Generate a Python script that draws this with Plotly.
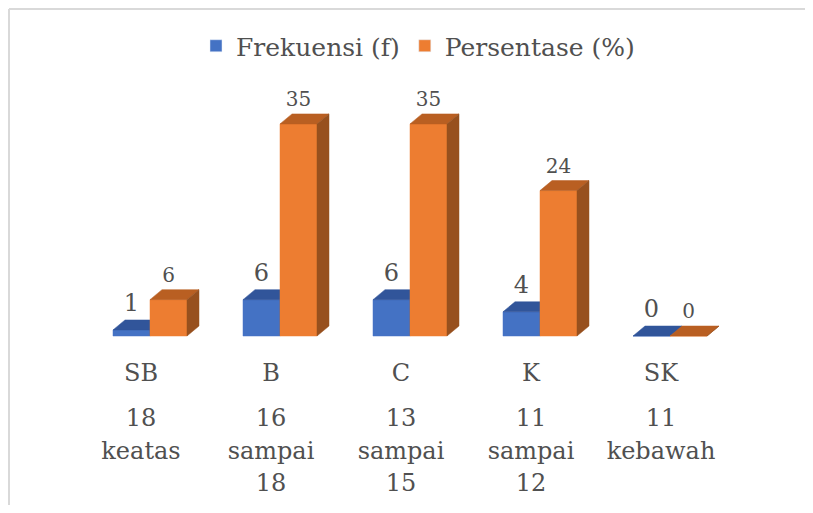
import plotly.graph_objects as go

# ---- data ----
categories = ["SB", "B", "C", "K", "SK"]
ranges = ["18\nkeatas", "16\nsampai\n18", "13\nsampai\n15", "11\nsampai\n12", "11\nkebawah"]
frekuensi = [1, 6, 6, 4, 0]
persentase = [6, 35, 35, 24, 0]
series_names = ["Frekuensi (f)", "Persentase (%)"]

# ---- styling / layout constants (page body has an 8px margin) ----
OFF = 8.0
W, H = 805, 497
C0_PX, CAT_PX = 150.0 - OFF, 130.0    # pixel of first pair centre, spacing
BASE_PX, PPU = 336.0 - OFF, 6.06      # pixel of value 0, pixels per unit
BAR_W = 37.0 / CAT_PX
DX = 12.0 / CAT_PX
DY = 10.0 / PPU
FONT = "DejaVu Serif"
TXT = "#505050"

colors = {
    0: dict(front="#4472C4", top="#31559A", side="#2C4D8C"),
    1: dict(front="#ED7D31", top="#B95F22", side="#97501E"),
}

def px_y(py):
    return (BASE_PX - (py - OFF)) / PPU

fig = go.Figure()

series = [frekuensi, persentase]
for i in range(len(categories)):
    for s, vals in enumerate(series):
        v = vals[i]
        x0 = i - BAR_W if s == 0 else i
        x1 = x0 + BAR_W
        col = colors[s]
        faces = [
            ([x0, x1, x1, x0, x0], [0, 0, v, v, 0], col["front"]),
            ([x0, x0 + DX, x1 + DX, x1, x0], [v, v + DY, v + DY, v, v], col["top"]),
            ([x1, x1 + DX, x1 + DX, x1, x1], [0, DY, v + DY, v, 0], col["side"]),
        ]
        for fx, fy, fc in faces:
            fig.add_trace(go.Scatter(
                x=fx, y=fy, mode="lines", fill="toself", fillcolor=fc,
                line=dict(color=fc, width=0.5), hoverinfo="skip", showlegend=False))

# data labels
label_gap = 3.0 / PPU
for s, vals in enumerate(series):
    xs = [i - BAR_W / 2 if s == 0 else i + BAR_W / 2 for i in range(len(categories))]
    ys = [v + DY + label_gap for v in vals]
    fig.add_trace(go.Scatter(
        x=xs, y=ys, mode="text", text=[str(v) for v in vals],
        textposition="top center",
        textfont=dict(family=FONT, size=24 if s == 0 else 20, color=TXT),
        hoverinfo="skip", showlegend=False))

# category labels
lab_dx = -9.0 / CAT_PX
fig.add_trace(go.Scatter(
    x=[i + lab_dx for i in range(len(categories))],
    y=[px_y(375)] * len(categories), mode="text", text=categories,
    textposition="middle center", textfont=dict(family=FONT, size=24, color=TXT),
    hoverinfo="skip", showlegend=False))
line_py = [420, 452.5, 485]
for k in range(3):
    xs, ts = [], []
    for i, r in enumerate(ranges):
        parts = r.split("\n")
        if k < len(parts):
            xs.append(i + lab_dx)
            ts.append(parts[k])
    fig.add_trace(go.Scatter(
        x=xs, y=[px_y(line_py[k])] * len(xs), mode="text", text=ts,
        textposition="middle center", textfont=dict(family=FONT, size=24, color=TXT),
        hoverinfo="skip", showlegend=False))

# legend entries
for s, name in enumerate(series_names):
    fig.add_trace(go.Bar(x=[None], y=[None], name=name,
                         marker=dict(color=colors[s]["front"])))

bx = (9.0 - OFF) / W
by = 1 - (9.0 - OFF) / H
fig.update_layout(
    width=W, height=H,
    margin=dict(l=0, r=0, t=0, b=0),
    paper_bgcolor="white", plot_bgcolor="white",
    xaxis=dict(range=[(0 - C0_PX) / CAT_PX, (W - C0_PX) / CAT_PX],
               visible=False, fixedrange=True),
    yaxis=dict(range=[(BASE_PX - H) / PPU, BASE_PX / PPU], visible=False, fixedrange=True),
    showlegend=True,
    legend=dict(orientation="h", x=(418 - OFF) / W, xanchor="center",
                y=1 - (46.0 - OFF) / H, yanchor="middle",
                font=dict(family=FONT, size=25, color=TXT),
                bgcolor="rgba(0,0,0,0)"),
    shapes=[
        dict(type="line", xref="paper", yref="paper", x0=bx, x1=1.0, y0=by, y1=by,
             line=dict(color="#D9D9D9", width=2), layer="below"),
        dict(type="line", xref="paper", yref="paper", x0=bx, x1=bx, y0=0.0, y1=by,
             line=dict(color="#D9D9D9", width=2), layer="below"),
    ],
)

fig.write_html("out.html")
